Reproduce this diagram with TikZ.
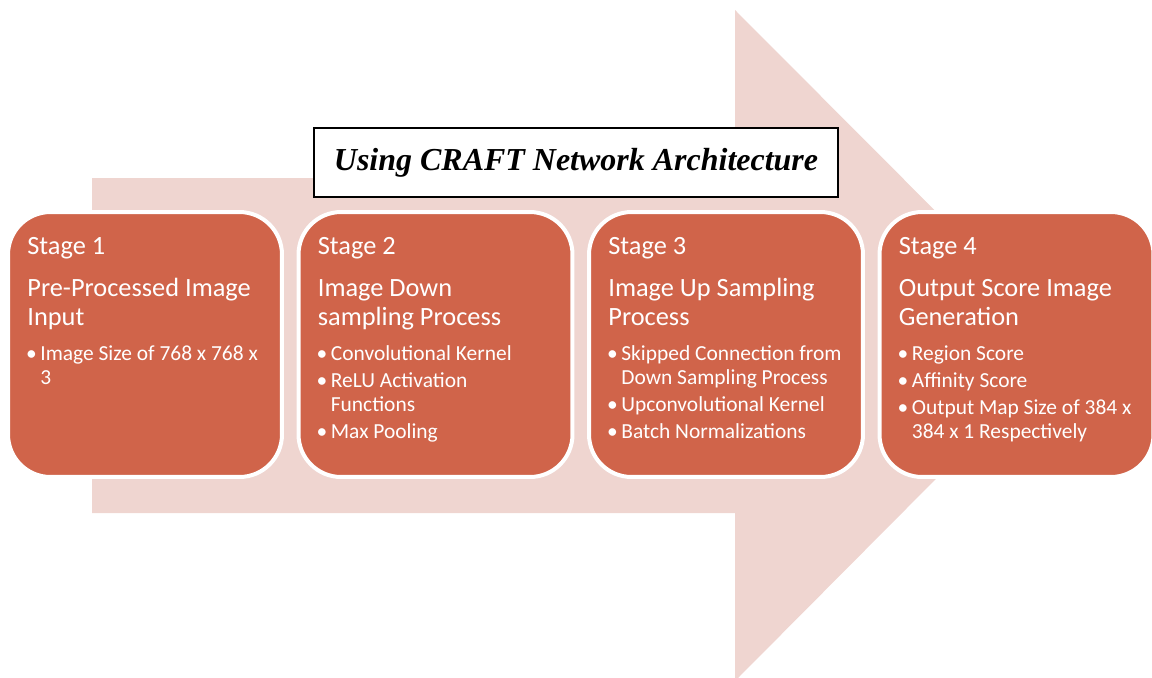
\documentclass[tikz,border=0pt]{standalone}
\usepackage{fontspec}
\setmainfont{Carlito}
\newfontfamily\titlefont{Liberation Serif}
\definecolor{arrowpink}{HTML}{EFD5D0}
\definecolor{stageorange}{HTML}{D0644A}
\newcommand\plainspaces{\spaceskip=0pt\xspaceskip=0pt}
\newcommand\bulsize{\fontsize{12.2}{13.6}\selectfont\plainspaces}
\newcommand\bul[1]{\par\vspace{0.06cm}{\leftskip=0.26cm\noindent\llap{\textbullet\hspace{0.07cm}}#1\par}}
\tikzset{
  stagebox/.style={fill=stageorange, draw=white, line width=0.08cm, rounded corners=0.85cm,
    minimum width=5.48cm, minimum height=5.3cm},
  stagetext/.style={anchor=north west, inner sep=0pt, text width=4.9cm, align=left,
    text=white, font=\fontsize{15}{16.5}\selectfont},
}

\begin{document}
\begin{tikzpicture}[x=0.02cm, y=-0.02cm]
\useasboundingbox (0,0) rectangle (1152,677);

\fill[arrowpink] (92,178) -- (735,178) -- (735,10) -- (1069,345) -- (735,681)
  -- (735,513) -- (92,513) -- cycle;

\node[draw, fill=white, line width=0.7pt, minimum width=10.48cm, minimum height=1.38cm]
  (title) at (576,162.5) {\titlefont\bfseries\itshape\fontsize{18.2}{21}\selectfont Using CRAFT Network Architecture};

\node[stagebox] (s1) at (145,344.5) {};
\node[stagebox] (s2) at (435.5,344.5) {};
\node[stagebox] (s3) at (726,344.5) {};
\node[stagebox] (s4) at (1016.5,344.5) {};

\node[stagetext] (t1) at ([shift={(21,27)}]s1.north west) {\plainspaces Stage 1\par\vspace{0.26cm}
  Pre-Processed Image\\Input\par\vspace{0.16cm}\bulsize
  \bul{Image Size of 768 x 768 x\\3}};
\node[stagetext] (t2) at ([shift={(21,27)}]s2.north west) {\plainspaces Stage 2\par\vspace{0.26cm}
  Image Down\\sampling Process\par\vspace{0.16cm}\bulsize
  \bul{Convolutional Kernel}
  \bul{ReLU Activation\\Functions}
  \bul{Max Pooling}};
\node[stagetext] (t3) at ([shift={(21,27)}]s3.north west) {\plainspaces Stage 3\par\vspace{0.26cm}
  Image Up Sampling\\Process\par\vspace{0.16cm}\bulsize
  \bul{Skipped Connection from\\Down Sampling Process}
  \bul{Upconvolutional Kernel}
  \bul{Batch Normalizations}};
\node[stagetext] (t4) at ([shift={(21,27)}]s4.north west) {\plainspaces Stage 4\par\vspace{0.26cm}
  Output Score Image\\Generation\par\vspace{0.16cm}\bulsize
  \bul{Region Score}
  \bul{Affinity Score}
  \bul{Output Map Size of 384 x\\384 x 1 Respectively}};
\end{tikzpicture}
\end{document}
